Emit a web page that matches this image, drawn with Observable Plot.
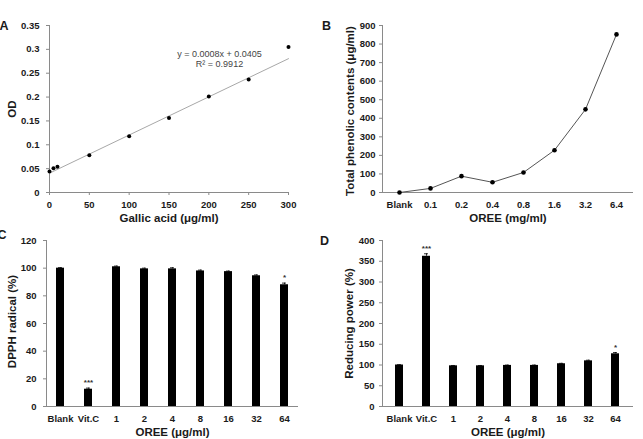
<!DOCTYPE html>
<html>
<head>
<meta charset="utf-8">
<script src="https://cdn.jsdelivr.net/npm/d3@7"></script>
<script src="https://cdn.jsdelivr.net/npm/@observablehq/plot@0.6"></script>
<style>
  body { margin: 0; background: #fff; }
  #fig { position: relative; width: 643px; height: 439px; overflow: hidden; background: #fff; }
  #fig svg { position: absolute; overflow: visible; }
</style>
</head>
<body>
<div id="fig"></div>
<script>
// A: gallic acid standard curve
const gallicConc = [0, 5, 10, 50, 100, 150, 200, 250, 300];
const gallicOD = [0.044, 0.051, 0.054, 0.078, 0.118, 0.156, 0.201, 0.237, 0.305];
const fitSlope = 0.0008;
const fitIntercept = 0.0405;
const fitR2 = 0.9912;
const odTicks = [0, 0.05, 0.1, 0.15, 0.2, 0.25, 0.3, 0.35];
const concTicks = [0, 50, 100, 150, 200, 250, 300];

// B: total phenolic contents of OREE
const phenolDoses = ["Blank", "0.1", "0.2", "0.4", "0.8", "1.6", "3.2", "6.4"];
const phenolContent = [0, 22, 88, 55, 108, 228, 448, 852];
const phenolTicks = [0, 100, 200, 300, 400, 500, 600, 700, 800, 900];

// C and D: DPPH radical and reducing power
const assayGroups = ["Blank", "Vit.C", "1", "2", "4", "8", "16", "32", "64"];
const dpphMean = [100, 12.5, 101, 99.5, 99.5, 98, 97.5, 94.5, 88];
const dpphErr = [0.4, 0.8, 0.5, 0.5, 0.8, 0.6, 0.4, 0.6, 1.2];
const dpphSig = ["", "***", "", "", "", "", "", "", "*"];
const dpphTicks = [0, 20, 40, 60, 80, 100, 120];
const reduceMean = [100, 362, 98, 98, 99, 99, 103, 110, 127];
const reduceErr = [0.8, 6, 0.8, 0.8, 0.8, 0.8, 1, 1.5, 3];
const reduceSig = ["", "***", "", "", "", "", "", "", "*"];
const reduceTicks = [0, 50, 100, 150, 200, 250, 300, 350, 400];

const font = '"Liberation Sans", Arial, Helvetica, sans-serif';
const ink = "#1a1a1a";
const axisGray = "#8a8a8a";
const baseStyle = {
  fontFamily: font, fontSize: "9.5px", fontWeight: "bold", color: ink,
  background: "transparent", overflow: "visible"
};
const centered = {textAnchor: "middle", lineAnchor: "middle"};
const fig = document.getElementById("fig");

function place(svg, left, top) {
  svg.style.left = left + "px";
  svg.style.top = top + "px";
  fig.appendChild(svg);
}

// panel letter, y title and x title shared by all four panels
function decorations(letter, letterDx, letterDy, yTitle, yDx, yDy, xTitle) {
  return [
    Plot.text([letter], {frameAnchor: "top-left", dx: letterDx, dy: letterDy, ...centered, fontSize: 12.5, fontWeight: "bold", fill: ink}),
    Plot.text([yTitle], {frameAnchor: "left", dx: yDx, dy: yDy, ...centered, rotate: -90, fontSize: 11.5, fontWeight: "bold", fill: ink}),
    Plot.text([xTitle], {frameAnchor: "bottom", dy: 26, ...centered, fontSize: 11.5, fontWeight: "bold", fill: ink})
  ];
}

// ---- A ----
const gallic = gallicConc.map((x, i) => ({x, y: gallicOD[i]}));
const fit = d3.extent(gallicConc).map(x => ({x, y: fitSlope * x + fitIntercept}));
place(Plot.plot({
  width: 320, height: 220,
  marginLeft: 49, marginRight: 32, marginTop: 25, marginBottom: 28,
  style: baseStyle,
  x: {domain: [0, 300]},
  y: {domain: [0, 0.35]},
  marks: [
    Plot.axisY({ticks: odTicks, tickFormat: d3.format("~g"), tickSize: 3, tickPadding: 7, stroke: axisGray, fill: ink, label: null}),
    Plot.axisX({ticks: concTicks, tickSize: 3, tickPadding: 6, stroke: axisGray, fill: ink, label: null}),
    Plot.ruleX([0], {stroke: axisGray}),
    Plot.ruleY([0], {stroke: axisGray}),
    Plot.line(fit, {x: "x", y: "y", stroke: "#a8a8a8", strokeWidth: 1}),
    Plot.dot(gallic, {x: "x", y: "y", r: 2, fill: "#000", stroke: null}),
    Plot.text([`y = ${fitSlope}x + ${fitIntercept}`], {frameAnchor: "top-right", dx: -69, dy: 29, ...centered, fontSize: 9, fontWeight: "normal", fill: "#444"}),
    Plot.text([`R² = ${fitR2}`], {frameAnchor: "top-right", dx: -69, dy: 38.5, ...centered, fontSize: 9, fontWeight: "normal", fill: "#444"}),
    ...decorations("A", -45.5, 0.5, "OD", -37, 0, "Gallic acid (μg/ml)")
  ]
}), 0, 0);

// ---- B ----
const phenol = phenolDoses.map((d, i) => ({d, v: phenolContent[i]}));
place(Plot.plot({
  width: 323, height: 220,
  marginLeft: 62, marginRight: 10, marginTop: 25, marginBottom: 28,
  style: baseStyle,
  x: {type: "point", domain: phenolDoses, padding: 0.5},
  y: {domain: [0, 900]},
  marks: [
    Plot.axisY({ticks: phenolTicks, tickSize: 3, tickPadding: 4, stroke: axisGray, fill: ink, label: null}),
    Plot.axisX({tickSize: 0, tickPadding: 9, fill: ink, label: null}),
    Plot.frame({anchor: "left", stroke: axisGray}),
    Plot.ruleY([0], {stroke: axisGray}),
    Plot.line(phenol, {x: "d", y: "v", stroke: "#555", strokeWidth: 1}),
    Plot.dot(phenol, {x: "d", y: "v", r: 2.3, fill: "#000", stroke: null}),
    ...decorations("B", -56, 0.5, "Total phenolic contents (μg/ml)", -32, 2, "OREE (mg/ml)")
  ]
}), 320, 0);

// ---- C and D: bar charts with error bars and significance marks ----
function barPanel({mean, err, sig, ticks, yMax, width, marginLeft, marginRight, tickPadding, letter, letterDx, letterDy, yTitle, yDx, yDy}) {
  const rows = assayGroups.map((g, i) => ({g, m: mean[i], e: err[i], top: mean[i] + err[i], s: sig[i]}));
  return Plot.plot({
    width, height: 219,
    marginLeft, marginRight, marginTop: 20, marginBottom: 33,
    style: baseStyle,
    x: {type: "band", domain: assayGroups, paddingInner: 0.7, paddingOuter: 0.35},
    y: {domain: [0, yMax]},
    marks: [
      Plot.axisY({ticks, tickSize: 3, tickPadding, stroke: axisGray, fill: ink, label: null}),
      Plot.axisX({tickSize: 0, tickPadding: 9, fill: ink, label: null}),
      Plot.frame({anchor: "left", stroke: axisGray}),
      Plot.barY(rows, {x: "g", y: "m", fill: "#000"}),
      Plot.ruleX(rows, {x: "g", y1: "m", y2: "top", stroke: "#000", strokeWidth: 0.8}),
      Plot.tickY(rows, {x: "g", y: "top", stroke: "#000", strokeWidth: 0.8, insetLeft: 2, insetRight: 2}),
      Plot.text(rows.filter(r => r.s), {x: "g", y: "top", text: "s", dy: -3, lineAnchor: "bottom", fontSize: 8, fill: "#333"}),
      Plot.ruleY([0], {stroke: axisGray}),
      ...decorations(letter, letterDx, letterDy, yTitle, yDx, yDy, "OREE (μg/ml)")
    ]
  });
}

place(barPanel({
  mean: dpphMean, err: dpphErr, sig: dpphSig, ticks: dpphTicks, yMax: 120,
  width: 320, marginLeft: 46, marginRight: 22, tickPadding: 7,
  letter: "C", letterDx: -44.5, letterDy: -6, yTitle: "DPPH radical (%)", yDx: -34, yDy: -2
}), 0, 220);

place(barPanel({
  mean: reduceMean, err: reduceErr, sig: reduceSig, ticks: reduceTicks, yMax: 400,
  width: 323, marginLeft: 62, marginRight: 10, tickPadding: 5,
  letter: "D", letterDx: -58, letterDy: 0.5, yTitle: "Reducing power (%)", yDx: -33, yDy: 0
}), 320, 220);
</script>
</body>
</html>
